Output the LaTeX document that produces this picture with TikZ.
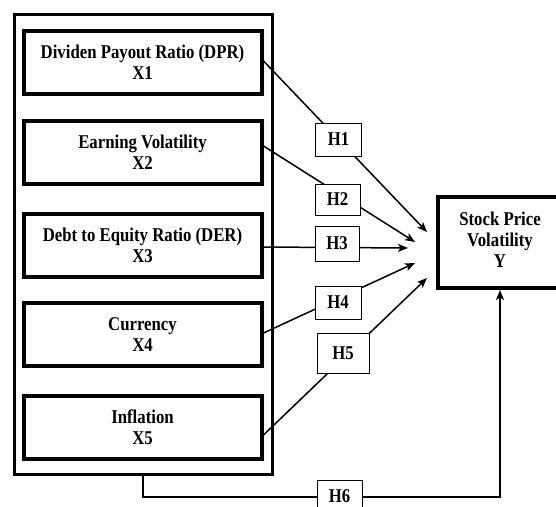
\documentclass[tikz,border=0pt]{standalone}
\usepackage{fontspec}
\setmainfont{Liberation Serif}[FakeStretch=0.86]
\usetikzlibrary{arrows.meta,calc}
\begin{document}
\begin{tikzpicture}[x=1pt,y=-1pt,
  every node/.style={font=\bfseries\fontsize{19.5}{20.8}\selectfont, align=center, inner sep=0pt},
  varbox/.style={draw, line width=4pt, minimum width=238pt, minimum height=63pt},
  hbox/.style={draw, fill=white, line width=1pt, minimum width=46pt, minimum height=33pt},
  ybox/.style={draw, line width=4pt, minimum width=124pt, minimum height=91pt},
  outerbox/.style={draw, line width=3pt, minimum width=258pt, minimum height=460pt},
  conn/.style={line width=1.5pt, -{Stealth[length=10pt,width=8pt,inset=2.5pt]}},
  link/.style={line width=2pt, -{Stealth[length=10pt,width=8pt,inset=2.5pt]}}
]
\useasboundingbox (0,0) rectangle (556,506);
\clip (0,0) rectangle (556,506);
\fill[white] (0,0) rectangle (556,506);

\node[outerbox] (outer) at (143,244) {};
\node[varbox] (b1) at (142.5,62) {Dividen Payout Ratio (DPR)\\X1};
\node[varbox] (b2) at (142.5,152) {Earning Volatility\\X2};
\node[varbox] (b3) at (142.5,245) {Debt to Equity Ratio (DER)\\X3};
\node[varbox] (b4) at (142.5,334.5) {Currency\\X4};
\node[varbox] (b5) at (142.5,427.5) {Inflation\\X5};

\node[ybox] (y) at (500,242.5) {\raisebox{3pt}{\begin{tabular}{@{}c@{}}Stock Price\\Volatility\\Y\end{tabular}}};

\coordinate (t1) at (427,232);
\coordinate (t2) at (415,242);
\coordinate (t3) at (408,248);
\coordinate (t4) at (415,263);
\coordinate (t5) at (427,278);

\draw[conn] ([yshift=1pt]b1.east) -- (t1);
\draw[conn] ([yshift=6pt]b2.east) -- (t2);
\draw[conn] ([yshift=-2pt]b3.east) -- (t3);
\draw[conn] ([yshift=1.5pt]b4.east) -- (t4);
\draw[conn] ([yshift=-7.5pt]b5.east) -- (t5);
\draw[link] (outer.south) -- ++(0,21) -| (y.south);

\node[hbox] (h1) at (338.5,139.5) {H1};
\node[hbox, minimum width=45pt, minimum height=31pt] (h2) at (337.5,199.5) {H2};
\node[hbox, minimum width=44pt, minimum height=35pt] (h3) at (337,243.5) {H3};
\node[hbox] (h4) at (338,302.5) {H4};
\node[hbox, minimum width=52pt, minimum height=40pt] (h5) at (343,353) {H5};
\node[hbox, minimum width=45pt, minimum height=34pt] (h6) at (339.5,497) {\raisebox{1.5pt}{H6}};
\end{tikzpicture}
\end{document}
